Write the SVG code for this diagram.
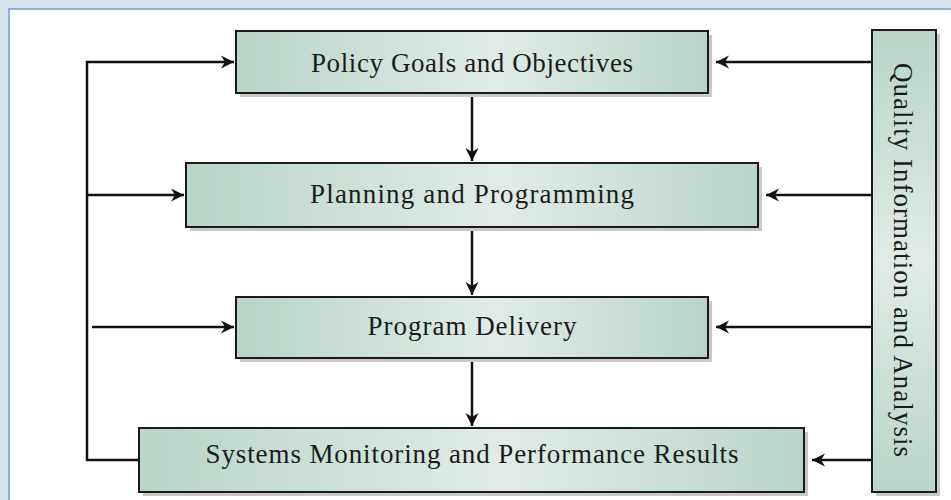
<svg xmlns="http://www.w3.org/2000/svg" width="951" height="500" viewBox="0 0 951 500">
<style>
.box{stroke:#1a1a1a;stroke-width:2}
.sh{fill:#c9c9c9}
.lbl{font-family:"Liberation Serif","Times New Roman",serif;font-size:27px;fill:#1c1c1c;text-anchor:middle}
.ln{fill:none;stroke:#111;stroke-width:2.5}
</style>
<defs>
<linearGradient id="gh" x1="0" y1="0" x2="1" y2="0">
<stop offset="0" stop-color="#b8d5c8"/>
<stop offset="0.55" stop-color="#e1ebe7"/>
<stop offset="1" stop-color="#b9d5c9"/>
</linearGradient>
<linearGradient id="gv" x1="0" y1="0" x2="0" y2="1">
<stop offset="0" stop-color="#b8d5c8"/>
<stop offset="0.5" stop-color="#e1ebe7"/>
<stop offset="1" stop-color="#b9d5c9"/>
</linearGradient>
<marker id="ah" viewBox="-14 -8 16 16" refX="0" refY="0" markerWidth="16" markerHeight="16" markerUnits="userSpaceOnUse" orient="auto">
<path d="M0,0 L-13,-6.5 L-9,0 L-13,6.5 Z" fill="#111"/>
</marker>
</defs>
<rect x="0" y="0" width="951" height="500" fill="#d5e6ea"/>
<rect x="9" y="9" width="960" height="510" fill="#ffffff" stroke="#6b9bd8" stroke-width="1.5"/>

<g id="connectors">
<path class="ln" d="M139,460 H87 V62 H234" marker-end="url(#ah)"/>
<path class="ln" d="M87,195 H184" marker-end="url(#ah)"/>
<path class="ln" d="M92,327 H234" marker-end="url(#ah)"/>
<path class="ln" d="M872,62 H716" marker-end="url(#ah)"/>
<path class="ln" d="M872,195 H766" marker-end="url(#ah)"/>
<path class="ln" d="M872,327 H716" marker-end="url(#ah)"/>
<path class="ln" d="M872,460 H812" marker-end="url(#ah)"/>
<path class="ln" d="M472,93 V161" marker-end="url(#ah)"/>
<path class="ln" d="M472,227 V295" marker-end="url(#ah)"/>
<path class="ln" d="M472,358 V426" marker-end="url(#ah)"/>
</g>

<g id="policy">
<rect class="sh" x="240" y="35" width="472" height="62"/>
<rect class="box" x="236" y="31" width="472" height="62" fill="url(#gh)"/>
<text class="lbl" x="472" y="72" textLength="322" lengthAdjust="spacing">Policy Goals and Objectives</text>
</g>
<g id="planning">
<rect class="sh" x="190" y="167" width="572" height="64"/>
<rect class="box" x="186" y="163" width="572" height="64" fill="url(#gh)"/>
<text class="lbl" x="472" y="203" textLength="324" lengthAdjust="spacing">Planning and Programming</text>
</g>
<g id="delivery">
<rect class="sh" x="240" y="301" width="472" height="61"/>
<rect class="box" x="236" y="297" width="472" height="61" fill="url(#gh)"/>
<text class="lbl" x="472" y="335" textLength="209" lengthAdjust="spacing">Program Delivery</text>
</g>
<g id="monitoring">
<rect class="sh" x="143" y="432" width="665" height="64"/>
<rect class="box" x="139" y="428" width="665" height="64" fill="url(#gh)"/>
<text class="lbl" x="472" y="463" textLength="533" lengthAdjust="spacing">Systems Monitoring and Performance Results</text>
</g>
<g id="quality">
<rect class="sh" x="876" y="34" width="64" height="462"/>
<rect class="box" x="872" y="30" width="64" height="462" fill="url(#gv)"/>
<text class="lbl" transform="translate(894,260) rotate(90)" x="0" y="0" textLength="394" lengthAdjust="spacing">Quality Information and Analysis</text>
</g>
</svg>
